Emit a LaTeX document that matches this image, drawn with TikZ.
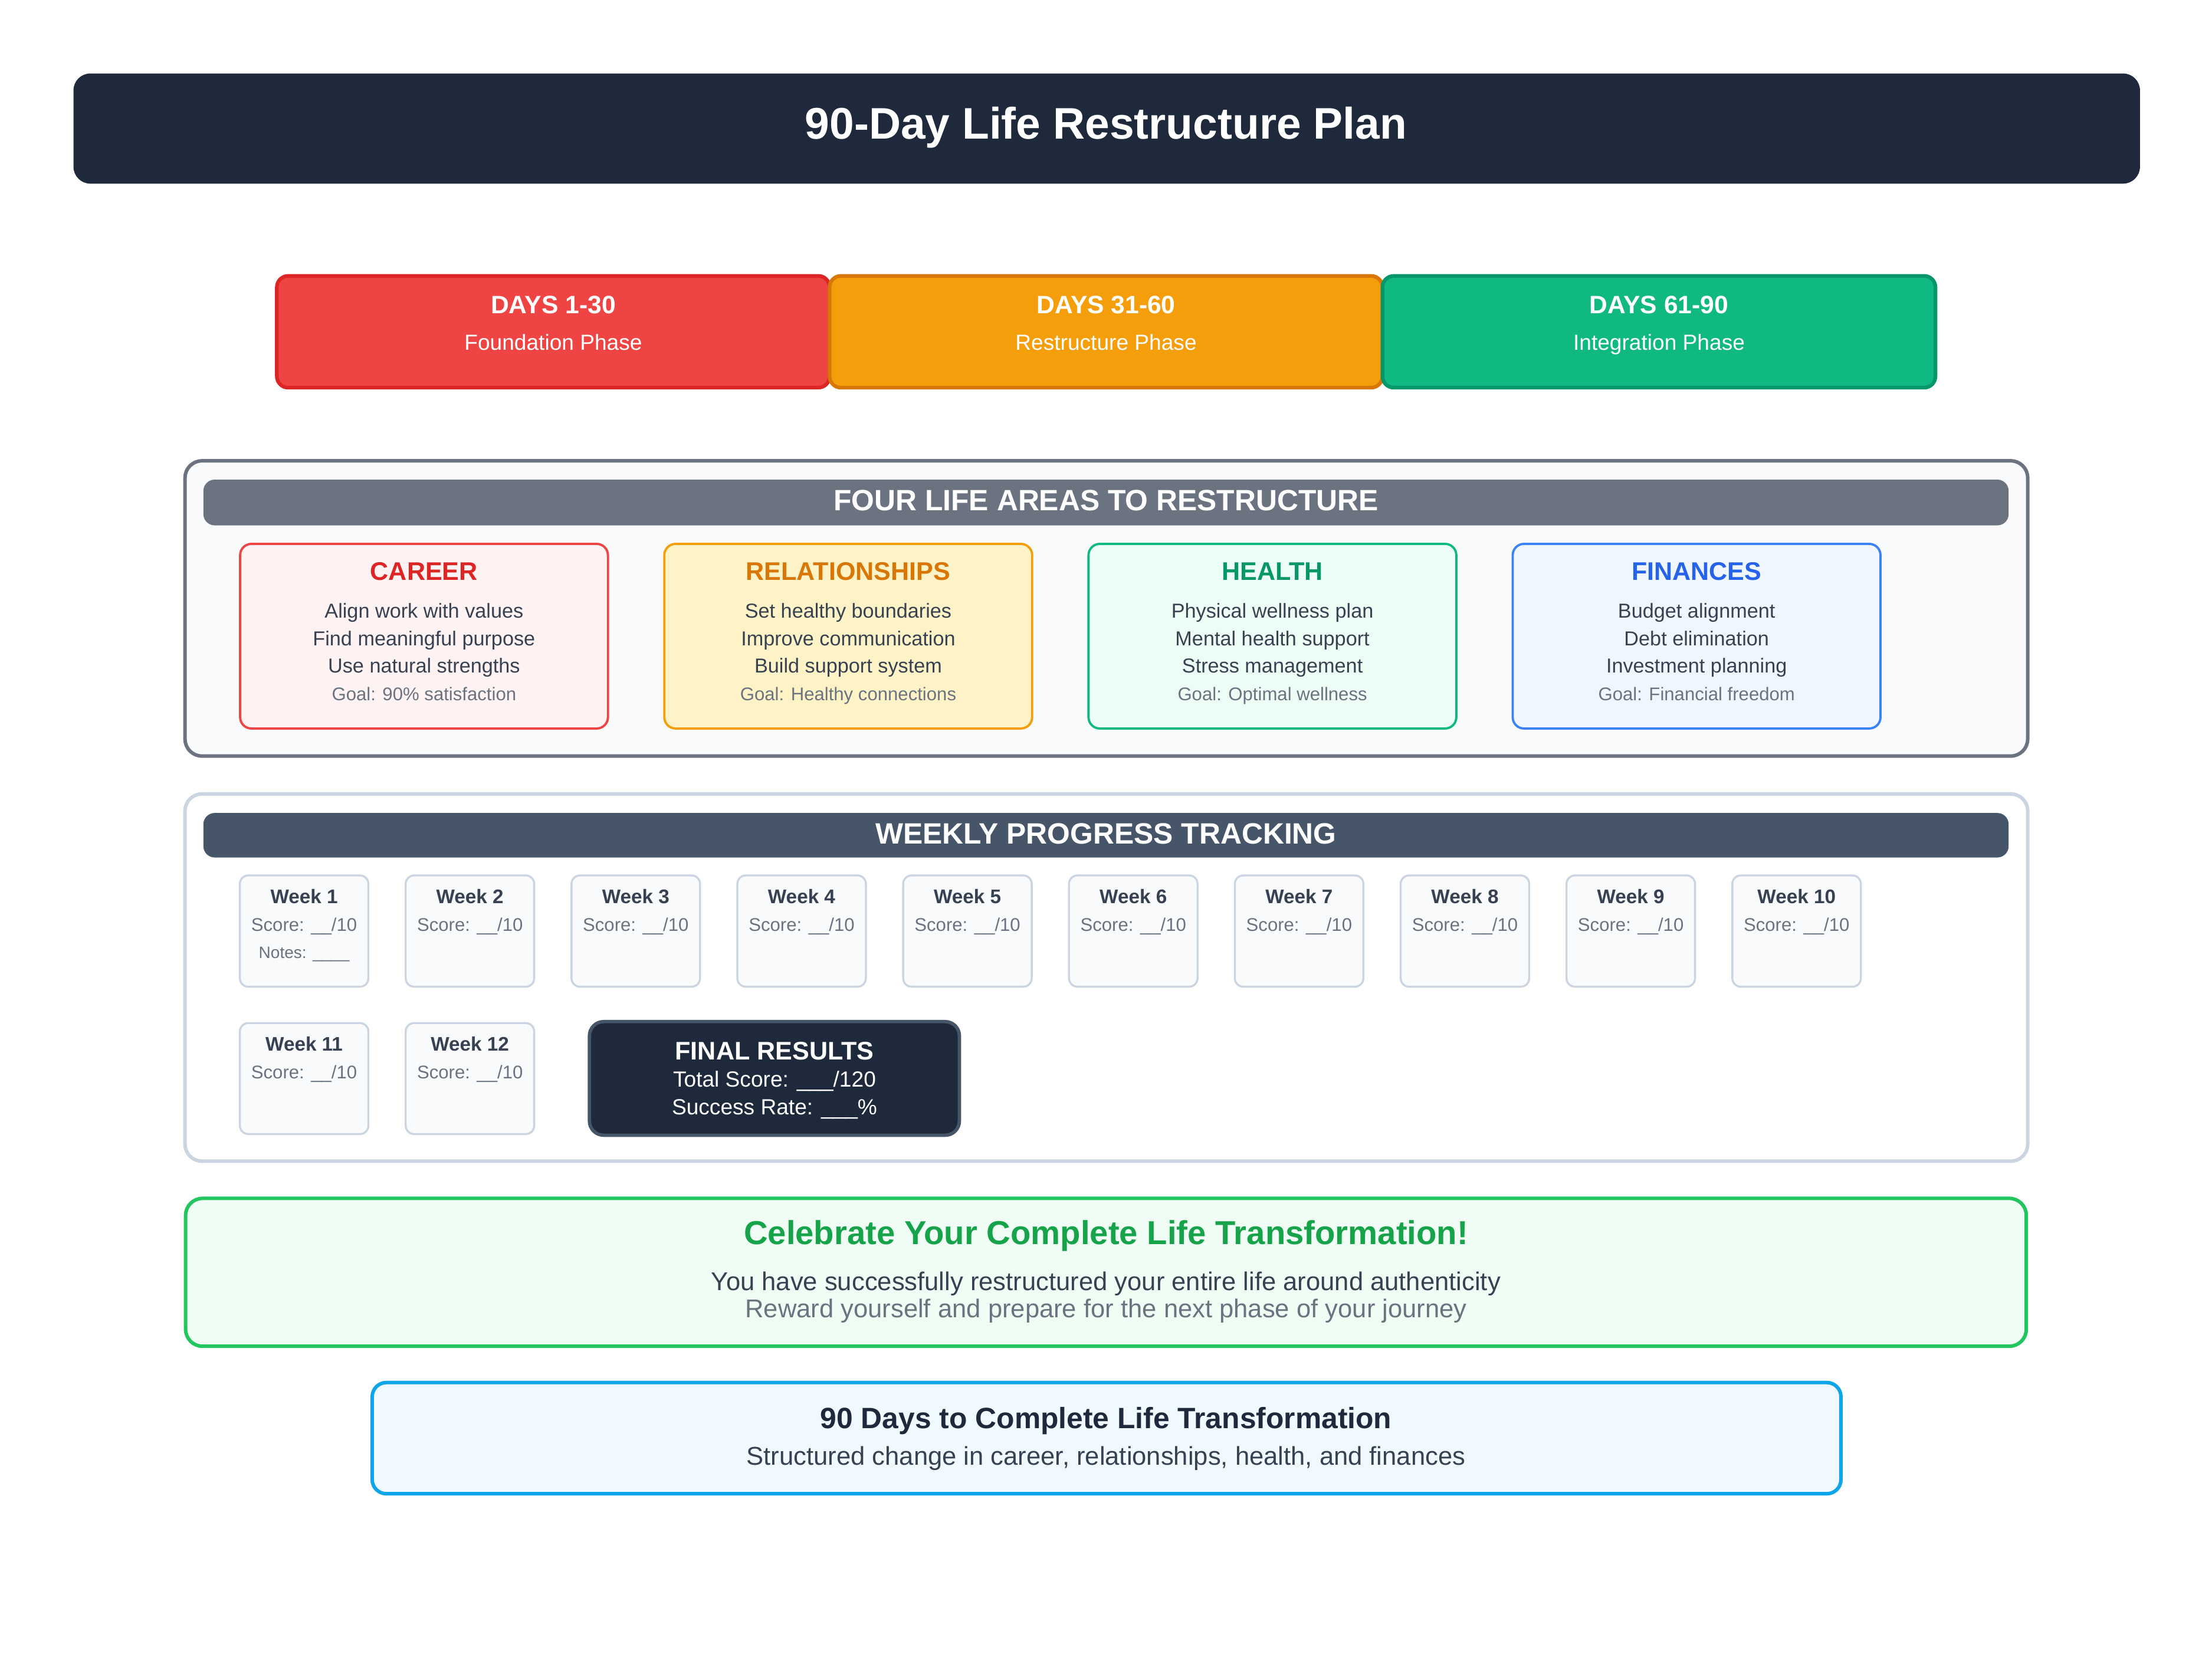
\documentclass[tikz,border=0pt]{standalone}
\usepackage{fontspec}
\setmainfont{Liberation Sans}
\definecolor{navy}{HTML}{1E293B}
\definecolor{redF}{HTML}{EF4444}
\definecolor{redS}{HTML}{DC2626}
\definecolor{orgF}{HTML}{F59E0B}
\definecolor{orgS}{HTML}{D97706}
\definecolor{grnF}{HTML}{10B981}
\definecolor{grnS}{HTML}{059669}
\definecolor{gray5}{HTML}{6B7280}
\definecolor{gray1}{HTML}{F9FAFB}
\definecolor{slate6}{HTML}{475569}
\definecolor{slate3}{HTML}{CBD5E1}
\definecolor{slate0}{HTML}{F8FAFC}
\definecolor{txtdark}{HTML}{374151}
\definecolor{carF}{HTML}{FEF2F2}
\definecolor{relF}{HTML}{FEF3C7}
\definecolor{heaF}{HTML}{ECFDF5}
\definecolor{finF}{HTML}{EFF6FF}
\definecolor{finS}{HTML}{3B82F6}
\definecolor{finT}{HTML}{2563EB}
\definecolor{celF}{HTML}{F0FDF4}
\definecolor{celS}{HTML}{22C55E}
\definecolor{celT}{HTML}{16A34A}
\definecolor{botF}{HTML}{F0F9FF}
\definecolor{botS}{HTML}{0EA5E9}
\newcommand\fsz[1]{\fontsize{#1}{#1}\selectfont}
\begin{document}
\begin{tikzpicture}[x=0.5pt,y=-0.5pt,
  txt/.style={inner sep=0pt,anchor=base,text=#1},
  txt/.default=txtdark,
  phasebox/.style 2 args={fill=#1,draw=#2,line width=1.3pt,rounded corners=4pt},
  container/.style={fill=#1,line width=1.25pt,rounded corners=6pt},
  headbar/.style={fill=#1,rounded corners=4pt},
  areabox/.style 2 args={fill=#1,draw=#2,line width=0.8pt,rounded corners=4pt},
  weekbox/.style={fill=slate0,draw=slate3,line width=0.7pt,rounded corners=3pt},
  weektitle/.style={txt=txtdark,font=\fsz{6.95}\bfseries},
  weekscore/.style={txt=gray5,font=\fsz{6.5}},
]
\useasboundingbox[fill=white] (0,0) rectangle (1566,1174.7);

% Title bar
\fill[navy,rounded corners=6pt] (52,52) rectangle (1515,130);
\node[txt=white,font=\fsz{15.65}\bfseries] (title) at (783,98.5) {90-Day Life Restructure Plan};

% Phases
\draw[phasebox={redF}{redS}] (196,195.3) rectangle (587.3,274.4);
\draw[phasebox={orgF}{orgS}] (587.3,195.3) rectangle (978.7,274.4);
\draw[phasebox={grnF}{grnS}] (978.7,195.3) rectangle (1370.2,274.4);
\node[txt=white,font=\fsz{8.9}\bfseries] (p1) at (391.7,222) {DAYS 1-30};
\node[txt=white,font=\fsz{7.75}] (p1s) at (391.7,248) {Foundation Phase};
\node[txt=white,font=\fsz{8.9}\bfseries] (p2) at (783,222) {DAYS 31-60};
\node[txt=white,font=\fsz{7.75}] (p2s) at (783,248) {Restructure Phase};
\node[txt=white,font=\fsz{8.9}\bfseries] (p3) at (1174.5,222) {DAYS 61-90};
\node[txt=white,font=\fsz{7.75}] (p3s) at (1174.5,248) {Integration Phase};

% Four life areas
\draw[container=gray1,draw=gray5] (131,326.2) rectangle (1435.5,535.2);
\fill[headbar=gray5] (144,339.5) rectangle (1422,371.9);
\node[txt=white,font=\fsz{10.4}\bfseries] (areas) at (783,361.6) {FOUR LIFE AREAS TO RESTRUCTURE};

\draw[areabox={carF}{redF}] (170,385) rectangle (430.4,515.7);
\draw[areabox={relF}{orgF}] (470.3,385) rectangle (730.7,515.7);
\draw[areabox={heaF}{grnF}] (770.6,385) rectangle (1031,515.7);
\draw[areabox={finF}{finS}] (1070.9,385) rectangle (1331.3,515.7);

\foreach \cx/\nm/\tc/\la/\lb/\lc/\gl in {
  300.2/CAREER/redS/Align work with values/Find meaningful purpose/Use natural strengths/Goal: 90\% satisfaction,
  600.5/RELATIONSHIPS/orgS/Set healthy boundaries/Improve communication/Build support system/Goal: Healthy connections,
  900.8/HEALTH/grnS/Physical wellness plan/Mental health support/Stress management/Goal: Optimal wellness,
  1201.1/FINANCES/finT/Budget alignment/Debt elimination/Investment planning/Goal: Financial freedom}{
  \node[txt=\tc,font=\fsz{9}\bfseries] (a-\nm) at (\cx,410.9) {\nm};
  \node[txt,font=\fsz{7.15}] (a-\nm-1) at (\cx,437.4) {\la};
  \node[txt,font=\fsz{7.15}] (a-\nm-2) at (\cx,457) {\lb};
  \node[txt,font=\fsz{7.15}] (a-\nm-3) at (\cx,476.2) {\lc};
  \node[txt=gray5,font=\fsz{6.5}] (a-\nm-g) at (\cx,495.9) {\gl};
}

% Weekly tracking
\draw[container=white,draw=slate3] (131,562) rectangle (1435.5,822);
\fill[headbar=slate6] (144,575.5) rectangle (1422,607);
\node[txt=white,font=\fsz{10.4}\bfseries] (weekly) at (783,597.2) {WEEKLY PROGRESS TRACKING};

\foreach \i in {1,...,10}{
  \pgfmathsetmacro{\xl}{169.8+(\i-1)*117.4}
  \draw[weekbox] (\xl,619.7) rectangle ++(91,78.8);
  \node[weektitle] (w\i) at (\xl+45.5,639.5) {Week \i};
  \node[weekscore] (ws\i) at (\xl+45.5,659) {Score: \_\_/10};
}
\node[txt=gray5,font=\fsz{5.85}] (notes1) at (215.3,678.3) {Notes: \_\_\_\_};

\foreach \i/\xl in {11/169.8,12/287.2}{
  \draw[weekbox] (\xl,724.2) rectangle ++(91,78.6);
  \node[weektitle] (w\i) at (\xl+45.5,744) {Week \i};
  \node[weekscore] (ws\i) at (\xl+45.5,763.4) {Score: \_\_/10};
}

\draw[fill=navy,draw=slate6,line width=1.2pt,rounded corners=5pt] (417.3,723.2) rectangle (679.2,803.6);
\node[txt=white,font=\fsz{9}\bfseries] (final) at (548.3,750.2) {FINAL RESULTS};
\node[txt=white,font=\fsz{7.75}] (total) at (548.3,769.6) {Total Score: \_\_\_/120};
\node[txt=white,font=\fsz{7.75}] (rate) at (548.3,789.1) {Success Rate: \_\_\_\%};

% Celebrate
\draw[fill=celF,draw=celS,line width=1.25pt,rounded corners=6pt] (131.4,848.3) rectangle (1434.5,953);
\node[txt=celT,font=\fsz{11.75}\bfseries] (cel) at (783,880.7) {Celebrate Your Complete Life Transformation!};
\node[txt,font=\fsz{9.1}] (cel1) at (783,913.5) {You have successfully restructured your entire life around authenticity};
\node[txt=gray5,font=\fsz{9.1}] (cel2) at (783,932.7) {Reward yourself and prepare for the next phase of your journey};

% Bottom
\draw[fill=botF,draw=botS,line width=1.25pt,rounded corners=5pt] (263.5,978.7) rectangle (1303.3,1057.4);
\node[txt=navy,font=\fsz{10.4}\bfseries] (bot) at (783,1011) {90 Days to Complete Life Transformation};
\node[txt,font=\fsz{9.1}] (bot1) at (783,1037) {Structured change in career, relationships, health, and finances};
\end{tikzpicture}
\end{document}
